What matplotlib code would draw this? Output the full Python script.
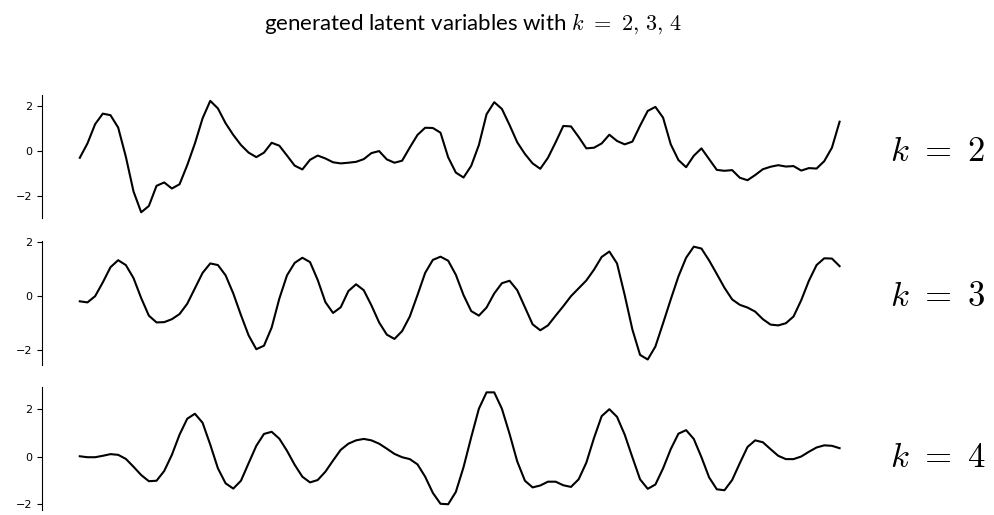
import matplotlib.pyplot as plt
import matplotlib.transforms as mtransforms

plt.rcParams['mathtext.fontset'] = 'cm'

k_values = [2, 3, 4]

latent_k2 = [
    -0.30, 0.34, 1.20, 1.67, 1.60, 1.05, -0.25, -1.80, -2.73, -2.45,
    -1.55, -1.40, -1.67, -1.48, -0.63, 0.34, 1.46, 2.24, 1.90, 1.24,
    0.72, 0.27, -0.07, -0.27, -0.07, 0.37, 0.24, -0.20, -0.65, -0.82,
    -0.39, -0.20, -0.33, -0.50, -0.55, -0.52, -0.48, -0.36, -0.09, 0.00,
    -0.37, -0.52, -0.43, 0.16, 0.72, 1.04, 1.03, 0.82, -0.28, -0.96,
    -1.18, -0.66, 0.27, 1.64, 2.18, 1.88, 1.16, 0.39, -0.13, -0.55,
    -0.79, -0.30, 0.39, 1.12, 1.10, 0.63, 0.12, 0.15, 0.34, 0.73,
    0.45, 0.30, 0.42, 1.13, 1.79, 1.97, 1.49, 0.30, -0.40, -0.72,
    -0.21, 0.12, -0.36, -0.84, -0.88, -0.85, -1.19, -1.30, -1.07, -0.81,
    -0.70, -0.63, -0.69, -0.67, -0.87, -0.76, -0.78, -0.45, 0.15, 1.31,
]

latent_k3 = [
    -0.20, -0.24, -0.01, 0.50, 1.06, 1.32, 1.14, 0.66, -0.08, -0.73,
    -0.98, -0.97, -0.86, -0.67, -0.29, 0.28, 0.85, 1.20, 1.14, 0.76,
    0.09, -0.71, -1.46, -1.97, -1.84, -1.17, -0.10, 0.76, 1.22, 1.41,
    1.25, 0.59, -0.23, -0.63, -0.42, 0.18, 0.43, 0.21, -0.35, -0.98,
    -1.43, -1.59, -1.30, -0.76, 0.03, 0.85, 1.33, 1.45, 1.30, 0.78,
    0.03, -0.56, -0.73, -0.43, 0.09, 0.47, 0.56, 0.21, -0.42, -1.05,
    -1.27, -1.09, -0.73, -0.38, -0.01, 0.28, 0.57, 0.97, 1.44, 1.64,
    1.20, 0.03, -1.24, -2.18, -2.35, -1.87, -1.01, -0.13, 0.72, 1.41,
    1.82, 1.75, 1.31, 0.81, 0.30, -0.13, -0.33, -0.43, -0.58, -0.86,
    -1.06, -1.09, -1.01, -0.76, -0.16, 0.56, 1.14, 1.39, 1.38, 1.10,
]

latent_k4 = [
    0.01, -0.03, -0.03, 0.03, 0.10, 0.07, -0.10, -0.43, -0.78, -1.04,
    -1.02, -0.61, 0.07, 0.92, 1.59, 1.80, 1.42, 0.50, -0.50, -1.13,
    -1.35, -1.02, -0.28, 0.45, 0.95, 1.04, 0.75, 0.24, -0.35, -0.85,
    -1.09, -0.99, -0.64, -0.17, 0.28, 0.54, 0.68, 0.74, 0.68, 0.54,
    0.33, 0.11, -0.03, -0.11, -0.33, -0.85, -1.53, -1.99, -2.01, -1.49,
    -0.45, 0.81, 2.01, 2.70, 2.70, 2.01, 0.95, -0.21, -1.02, -1.30,
    -1.22, -1.06, -1.06, -1.21, -1.28, -0.96, -0.26, 0.78, 1.70, 1.99,
    1.67, 0.92, -0.03, -0.96, -1.36, -1.18, -0.50, 0.31, 0.96, 1.11,
    0.74, -0.03, -0.88, -1.38, -1.42, -0.99, -0.28, 0.40, 0.68, 0.60,
    0.31, 0.03, -0.11, -0.11, 0.00, 0.20, 0.38, 0.47, 0.45, 0.35,
]

series = [latent_k2, latent_k3, latent_k4]

fig = plt.figure(figsize=(9.95, 5.15), dpi=100)
fig.text(0.476, 0.955, r"generated latent variables with $k\ =\ 2,\, 3,\, 4$",
         ha='center', va='center', fontsize=16, family='Lato')

# axes boxes in figure fractions (left, bottom, width, height)
boxes = [
    (0.042, 0.577, 0.840, 0.238),
    (0.042, 0.291, 0.840, 0.241),
    (0.042, 0.010, 0.840, 0.239),
]

for k, values, box in zip(k_values, series, boxes):
    ax = fig.add_axes(box)
    ax.plot(range(len(values)), values, color='black', linewidth=1.5)
    ax.set_yticks([-2, 0, 2])
    ax.set_xticks([])
    ax.tick_params(axis='y', labelsize=8, length=3.5)
    for side in ['top', 'right', 'bottom']:
        ax.spines[side].set_visible(False)
    trans = mtransforms.blended_transform_factory(ax.transAxes, ax.transData)
    ax.text(1.015, 0, r"$k\ =\ %d$" % k, transform=trans,
            ha='left', va='center', fontsize=25)

fig.savefig("out.png", dpi=100)
